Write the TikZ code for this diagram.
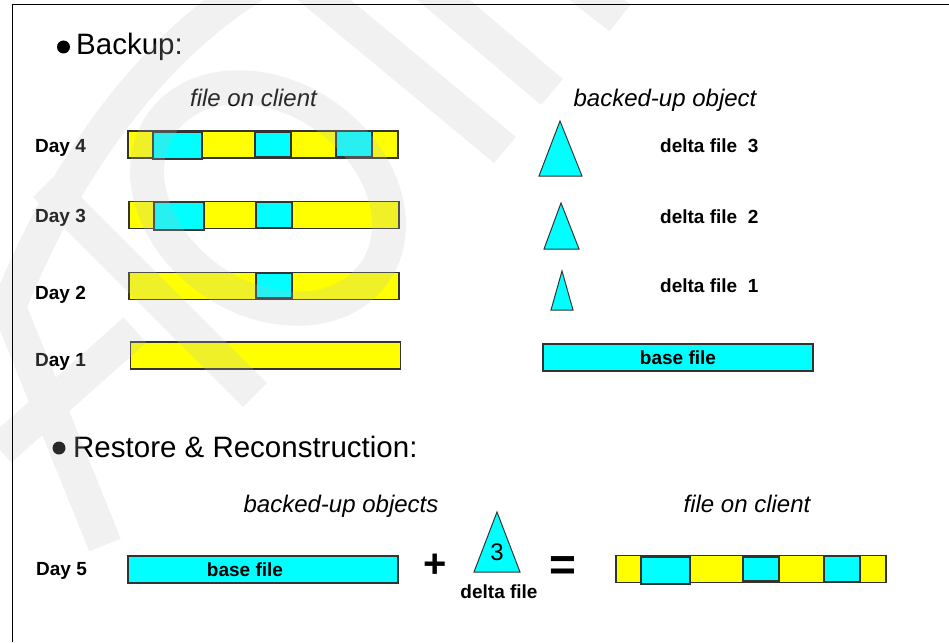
\documentclass[tikz,border=0pt]{standalone}
\usepackage{fontspec}
\setmainfont{Liberation Sans}
\usetikzlibrary{positioning}
\definecolor{dfyellow}{RGB}{255,255,0}
\definecolor{dfcyan}{RGB}{0,255,255}
\definecolor{dfline}{RGB}{51,51,51}
\definecolor{wmgray}{RGB}{190,190,190}
\tikzset{
    filebar/.style={
        draw=dfline,line width=1.2pt,fill=#1,inner sep=0pt,
        minimum width=270pt,minimum height=27pt,
        font=\fontsize{19}{19}\selectfont\bfseries
    },
    filebar/.default=dfyellow,
    chunk/.style={
        draw=dfline,line width=1.2pt,fill=dfcyan,inner sep=0pt,
        minimum width=#1,minimum height=26pt
    },
    chunk/.default=36pt,
    delta/.style={draw=dfline,line width=1pt,fill=dfcyan},
    daylabel/.style={anchor=base west,inner sep=0pt,font=\fontsize{19}{19}\selectfont\bfseries},
    colhead/.style={anchor=base,inner sep=0pt,font=\fontsize{24}{24}\selectfont\itshape},
    bullethead/.style={anchor=base west,inner sep=0pt,font=\fontsize{29.5}{30}\selectfont},
    bulletdot/.style={circle,fill=black,inner sep=0pt,minimum size=13pt},
    wmband/.style={draw=wmgray,line width=34pt}
}

\begin{document}
\begin{tikzpicture}[x=1pt,y=-1pt]
\useasboundingbox (0,0) rectangle (949,642);

% backup
\node[bulletdot] (dot1) at (63.5,47) {};
\node[bullethead] (backup) at (76,55) {Backup:};
\node[colhead] (clienthead) at (253.5,106) {file on client};
\node[colhead] (objhead) at (665,106) {backed-up object};

\node[daylabel] (day4) at (35,152) {Day 4};
\node[daylabel] (day3) at (35,222) {Day 3};
\node[daylabel] (day2) at (35,299) {Day 2};
\node[daylabel] (day1) at (35,366) {Day 1};

\node[filebar] (bar4) at (263,144.5) {};
\node[chunk=49pt,minimum height=27pt] (bar4a) at (177.5,145.5) {};
\node[chunk,minimum height=25pt] (bar4b) at (273,144.5) {};
\node[chunk] (bar4c) at (354,144) {};

\node[filebar] (bar3) at (264,215) {};
\node[chunk=50pt,minimum height=28pt] (bar3a) at (179,216) {};
\node[chunk] (bar3b) at (274,215) {};

\node[filebar] (bar2) at (264,286) {};
\node[chunk,minimum height=25pt] (bar2a) at (274,285.5) {};

\node[filebar] (bar1) at (265.5,355.5) {};

% backed-up objects
\draw[delta] (560,121) -- (582,176) -- (539,176) -- cycle;
\draw[delta] (561,203) -- (579,249) -- (544,249) -- cycle;
\draw[delta] (562,271) -- (573,310) -- (551,310) -- cycle;

\node[daylabel] (delta3) at (660,152) {delta file\ \ 3};
\node[daylabel] (delta2) at (660,223) {delta file\ \ 2};
\node[daylabel] (delta1) at (660,292) {delta file\ \ 1};
\node[filebar=dfcyan] (base) at (678,357.5) {base file};

% restore
\node[bulletdot] (dot2) at (59,448) {};
\node[bullethead] (restore) at (73,457) {Restore \& Reconstruction:};
\node[colhead] (objshead) at (341,512) {backed-up objects};
\node[colhead] (clienthead2) at (747,512) {file on client};

\node[daylabel] (day5) at (36,575) {Day 5};
\node[filebar=dfcyan] (base5) at (263,569.5) {};
\node[font=\fontsize{19}{19}\selectfont\bfseries,inner sep=0pt] (base5txt) at (245,569.5) {base file};
\node[font=\fontsize{40}{40}\selectfont\bfseries,inner sep=0pt] (plus) at (435,566) {+};
\draw[delta] (497,512) -- (520,572) -- (474,572) -- cycle;
\node[font=\fontsize{24}{24}\selectfont,inner sep=0pt] (num3) at (497,552) {3};
\node[daylabel,anchor=base] (deltalbl) at (499,598) {delta file};
\node[font=\fontsize{46}{46}\selectfont\bfseries,inner sep=0pt] (equals) at (563,569) {=};

\node[filebar] (bar5) at (751,569) {};
\node[chunk=49pt,minimum height=27pt] (bar5a) at (665.5,570.5) {};
\node[chunk,minimum height=24pt] (bar5b) at (761,569) {};
\node[chunk] (bar5c) at (842,569) {};

% watermark
\begin{scope}[transparency group,opacity=.22]
\draw[wmband,rotate around={-35:(268,198)}] (268,198) ellipse [x radius=130pt,y radius=100pt];
\draw[wmband] (255,-15) .. controls (150,50) and (60,170) .. (0,330);
\draw[wmband] (300,-20) -- (505,150);
\draw[wmband] (420,-20) -- (552,92);
\draw[wmband] (565,-25) -- (620,18);
\draw[wmband] (0,285) -- (105,545);
\draw[wmband] (45,185) -- (255,395);
\draw[wmband] (0,450) -- (135,330);
\end{scope}

% frame
\draw[line width=1pt] (12,642) -- (12,5) -- (949,5);

\end{tikzpicture}
\end{document}
